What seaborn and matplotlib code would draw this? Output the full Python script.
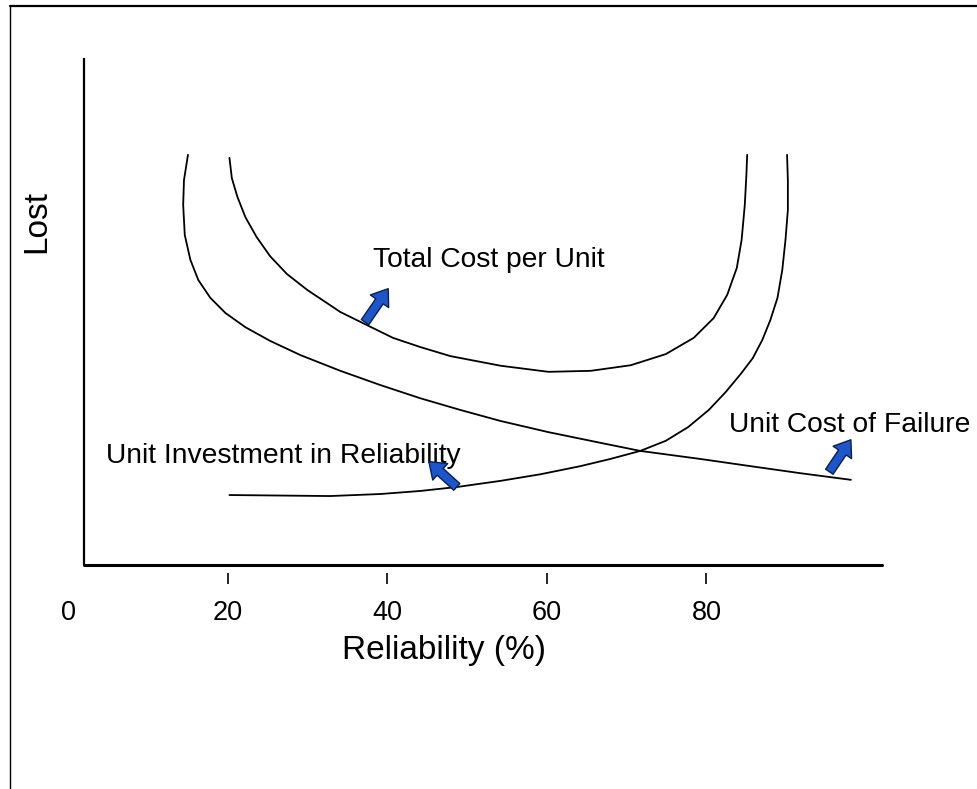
import seaborn as sns
import matplotlib.pyplot as plt
from matplotlib.lines import Line2D

# curves (x = reliability %, y = relative cost)
total_x = [20.2, 20.5, 21.2, 22.2, 23.6, 25.3, 27.4, 30.0, 32.2, 34.1, 37.2, 40.7, 44.1, 47.9,
           54.2, 60.2, 65.5, 70.5, 74.9, 78.4, 80.9, 82.6, 83.8, 84.4, 84.8, 85.0, 85.1]
total_y = [80.3, 76.3, 72.6, 68.6, 64.7, 60.9, 57.4, 54.2, 51.9, 49.9, 47.5, 44.8, 43.0, 41.2,
           39.3, 38.1, 38.3, 39.4, 41.6, 44.8, 48.7, 53.3, 58.6, 64.1, 71.0, 76.9, 80.9]

fail_x = [15.0, 14.5, 14.4, 14.6, 15.3, 16.3, 17.8, 19.7, 22.2, 25.3, 29.1, 34.1, 39.1, 44.1,
          49.1, 54.2, 60.2, 66.7, 71.7, 79.3, 85.5, 91.8, 98.1]
fail_y = [80.9, 75.9, 71.0, 65.1, 60.2, 56.2, 52.7, 49.7, 46.9, 44.2, 41.4, 38.3, 35.5, 32.9,
          30.6, 28.4, 26.2, 24.1, 22.5, 20.9, 19.5, 18.1, 16.8]

invest_x = [20.2, 26.6, 32.8, 39.1, 44.1, 48.8, 54.2, 59.2, 64.2, 67.9, 71.7, 74.9, 77.7, 80.3,
            82.4, 84.3, 85.8, 87.0, 88.0, 88.9, 89.5, 89.9, 90.2, 90.2, 90.1]
invest_y = [13.8, 13.7, 13.6, 14.0, 14.6, 15.4, 16.6, 17.9, 19.5, 20.9, 22.5, 24.5, 27.2, 30.6,
            34.1, 37.7, 40.8, 44.4, 48.3, 52.7, 58.2, 64.1, 70.0, 75.9, 80.9]

labels = ['Total Cost per Unit', 'Unit Investment in Reliability', 'Unit Cost of Failure']
label_pos = [(38.2, 60.2), (4.7, 21.5), (82.8, 27.6)]
# arrows: (tail, tip)
arrows = [((37.2, 47.9), (40.1, 54.5)),
          ((48.7, 15.4), (45.2, 20.4)),
          ((95.4, 18.4), (98.1, 24.7))]

xticks = [0, 20, 40, 60, 80]
x_axis_start = 2
x_axis_end = 102

sns.set_style('white')
plt.rcParams['font.family'] = ['Liberation Sans', 'DejaVu Sans']
plt.rcParams['text.color'] = 'black'
plt.rcParams['axes.labelcolor'] = 'black'
plt.rcParams['xtick.color'] = 'black'

fig = plt.figure(figsize=(9.77, 7.89), dpi=100)
# axes starts at x = 0 (pixel 68), the drawn y-axis line sits at x = 2
ax = fig.add_axes([68.3 / 977, 0.2839, (882 - 68.3) / 977, 0.6426])

for xs, ys in [(total_x, total_y), (fail_x, fail_y), (invest_x, invest_y)]:
    sns.lineplot(x=xs, y=ys, sort=False, estimator=None, color='black', linewidth=1.3, ax=ax)

ax.set_xticks(xticks)
ax.set_xticklabels([str(t) for t in xticks])
ax.set_yticks([])
ax.set_xlim(0, x_axis_end)
ax.set_ylim(0, 100)

for s in ['top', 'right', 'left']:
    ax.spines[s].set_visible(False)
ax.spines['bottom'].set_visible(False)
ax.spines['bottom'].set_position(('outward', 6))
ax.axvline(x_axis_start, color='black', linewidth=1.6)
ax.axhline(0, xmin=x_axis_start / x_axis_end, color='black', linewidth=2.2, clip_on=False)

ax.tick_params(axis='x', direction='out', length=8, width=1.2, pad=11, bottom=True,
               labelsize=19.5, labelcolor='black')
ax.xaxis.get_major_ticks()[0].tick1line.set_visible(False)

ax.set_xlabel('Reliability (%)', fontsize=24, va='center')
ax.xaxis.set_label_coords((444 - 68.3) / (882 - 68.3), -0.168)
ax.set_ylabel('Lost', fontsize=24, va='center')
ax.yaxis.set_label_coords((37 - 68.3) / (882 - 68.3), 0.677)

for txt, (x, y) in zip(labels, label_pos):
    ax.text(x, y, txt, fontsize=20.3, ha='left', va='center')

for tail, tip in arrows:
    ax.annotate('', xy=tip, xytext=tail,
                arrowprops=dict(arrowstyle='simple,head_length=1.1,head_width=1.6,tail_width=0.65',
                                fc='#1d56cc', ec='#0b1f4d', lw=1, mutation_scale=10,
                                shrinkA=0, shrinkB=0))

# outer frame (top and left edges only)
fig.add_artist(Line2D([10 / 977, 1], [1 - 6 / 789, 1 - 6 / 789], color='black', lw=1.6,
                      transform=fig.transFigure))
fig.add_artist(Line2D([10 / 977, 10 / 977], [0, 1 - 6 / 789], color='black', lw=1.0,
                      transform=fig.transFigure))

plt.savefig('out.png', dpi=100)
